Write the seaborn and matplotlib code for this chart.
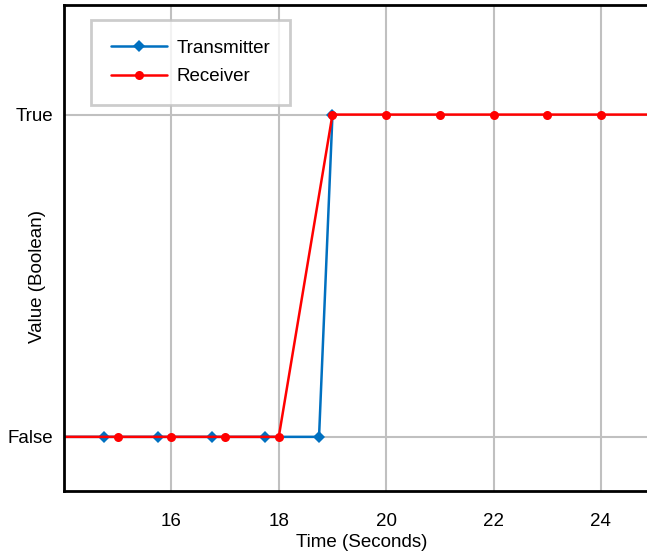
import pandas as pd
import matplotlib.pyplot as plt
import seaborn as sns

tx_time = [13.75, 14.75, 15.75, 16.75, 17.75, 18.75, 19.0]
tx_value = [0, 0, 0, 0, 0, 0, 1]
rx_time = [13.0, 15, 16, 17, 18, 19, 20, 21, 22, 23, 24, 25]
rx_value = [0, 0, 0, 0, 0, 1, 1, 1, 1, 1, 1, 1]

df = pd.concat([
    pd.DataFrame({"Time": tx_time, "Value": tx_value, "Signal": "Transmitter"}),
    pd.DataFrame({"Time": rx_time, "Value": rx_value, "Signal": "Receiver"}),
])

sns.set_theme(style="whitegrid")
plt.rcParams["font.family"] = ["Liberation Sans", "DejaVu Sans"]
plt.rcParams["text.color"] = "black"

fig = plt.figure(figsize=(6.47, 5.53), dpi=100)
ax = fig.add_axes([64 / 647, 62 / 553, (660 - 64) / 647, 486 / 553])

sns.lineplot(data=df, x="Time", y="Value", hue="Signal", style="Signal",
             palette={"Transmitter": "#0070C0", "Receiver": "#FF0000"},
             markers={"Transmitter": "D", "Receiver": "o"}, dashes=False,
             markersize=6.5, markeredgewidth=0, linewidth=1.8, sort=False,
             estimator=None, ax=ax)

ax.set_xlim(14.0, 25.1)
ax.set_ylim(-0.168, 1.34)
ax.set_xticks([16, 18, 20, 22, 24])
ax.set_yticks([0, 1])
ax.set_yticklabels(["False", "True"])
ax.tick_params(labelsize=13.5, length=0, colors="black")
ax.tick_params(axis="x", pad=16)
ax.tick_params(axis="y", pad=8)
ax.set_xlabel("Time (Seconds)", fontsize=13.5, labelpad=3, color="black")
ax.set_ylabel("Value (Boolean)", fontsize=13.5, color="black")
ax.yaxis.set_label_coords(-0.03, 0.442)
ax.grid(color="#c0c0c0", linewidth=1.5)

for side in ["left", "top", "bottom"]:
    ax.spines[side].set_color("black")
    ax.spines[side].set_linewidth(2)
ax.spines["right"].set_visible(False)

leg = ax.legend(loc="upper left", bbox_to_anchor=(0.045, 0.969), fontsize=13.5,
                frameon=True, fancybox=False, handlelength=3.0,
                borderpad=1.05, labelspacing=0.6, handletextpad=0.5,
                borderaxespad=0)
leg.get_frame().set_edgecolor("#c0c0c0")
leg.get_frame().set_linewidth(2)
leg.set_title(None)
for t in leg.get_texts():
    t.set_color("black")

fig.savefig("out.png", dpi=100)
